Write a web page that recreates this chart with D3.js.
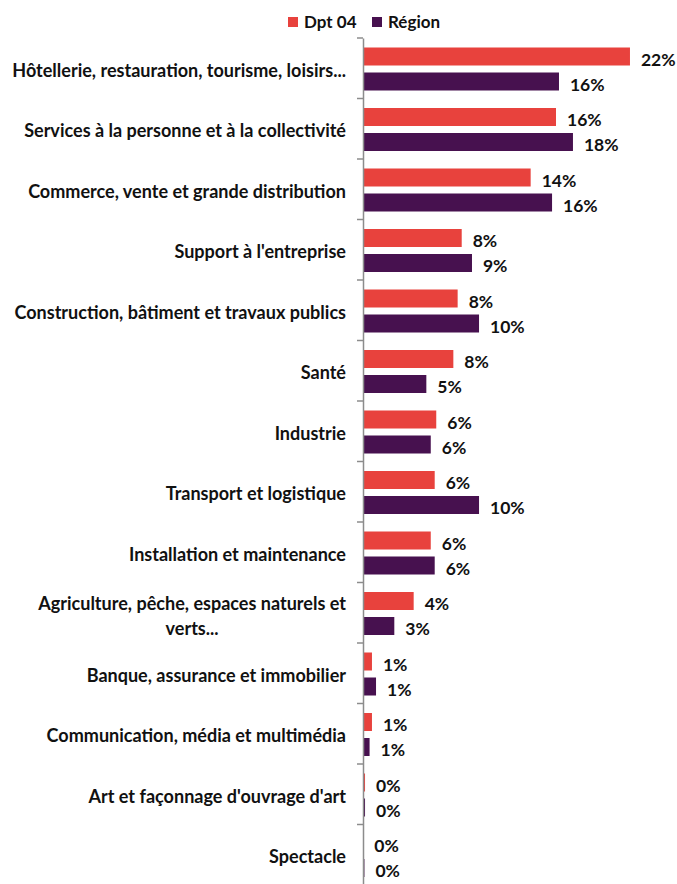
<!DOCTYPE html>
<html><head><meta charset="utf-8">
<script src="https://cdn.jsdelivr.net/npm/d3@7"></script>
<style>
body{margin:0;background:#fff;}
text{font-family:Lato,"Open Sans",sans-serif;font-weight:bold;fill:#111;}
</style></head>
<body>
<svg id="c" width="677" height="884"></svg>
<script>
const categories = [
  ["Hôtellerie, restauration, tourisme, loisirs..."],
  ["Services à la personne et à la collectivité"],
  ["Commerce, vente et grande distribution"],
  ["Support à l'entreprise"],
  ["Construction, bâtiment et travaux publics"],
  ["Santé"],
  ["Industrie"],
  ["Transport et logistique"],
  ["Installation et maintenance"],
  ["Agriculture, pêche, espaces naturels et", "verts..."],
  ["Banque, assurance et immobilier"],
  ["Communication, média et multimédia"],
  ["Art et façonnage d'ouvrage d'art"],
  ["Spectacle"]
];
const seriesNames = ["Dpt 04", "Région"];
const dpt04 = [22.34, 16.15, 14.03, 8.26, 7.92, 7.56, 6.13, 6.0, 5.67, 4.24, 0.75, 0.75, 0.17, 0.03];
const region = [16.40, 17.57, 15.82, 9.12, 9.71, 5.30, 5.67, 9.71, 6.0, 2.62, 1.09, 0.55, 0.17, 0.12];
const colors = ["#E8423D", "#47114F"];

const svg = d3.select("#c");
// fit font size so the longest label matches the reference width
const probe = svg.append("text").style("font-size","16px").text(categories[0][0]);
const pw = probe.node().getComputedTextLength(); probe.remove();
const fs = Math.min(19, 16 * 334 / pw);

const axisX = 363;
const x = d3.scaleLinear().domain([0, 1]).range([axisX, axisX + 1195]);
const keys = categories.map((c,i)=>i);
const y0 = d3.scaleBand().domain(keys).range([38, 885]).padding(0);
const y1 = d3.scaleBand().domain(seriesNames).range([9.5, 52.5]).paddingInner(0.28).paddingOuter(0);
const fmt = d3.format(".0%");

const data = keys.map(i => ({i, vals: [dpt04[i], region[i]]}));

const g = svg.append("g");
const grp = g.selectAll("g.cat").data(data).join("g").attr("class","cat")
  .attr("transform", d => `translate(0,${y0(d.i)})`);

grp.selectAll("rect").data(d => d.vals.map((v,k)=>({v:v/100,k})))
  .join("rect")
  .attr("x", x(0))
  .attr("y", d => y1(seriesNames[d.k]))
  .attr("width", d => x(d.v) - x(0))
  .attr("height", y1.bandwidth())
  .attr("fill", d => colors[d.k]);

grp.selectAll("text.val").data(d => d.vals.map((v,k)=>({v:v/100,k})))
  .join("text").attr("class","val")
  .attr("x", d => x(d.v) + 11)
  .attr("y", d => y1(seriesNames[d.k]) + y1.bandwidth()/2 + 3)
  .attr("dy","0.35em")
  .style("font-size", "17.5px")
  .text(d => fmt(d.v));

// axis
const ax = d3.axisLeft(y0).tickSize(0).tickFormat("");
const axG = svg.append("g").attr("transform", `translate(${axisX},0)`).call(ax);
axG.select(".domain").attr("stroke","#8c8c8c").attr("stroke-width",1.5);
const bounds = d3.range(0, categories.length+1).map(i => 38 + i*y0.bandwidth());
axG.selectAll("line.tk").data(bounds).join("line").attr("class","tk")
  .attr("x1",-6).attr("x2",0).attr("y1",d=>d).attr("y2",d=>d)
  .attr("stroke","#8c8c8c").attr("stroke-width",1.5);

// category labels
const labG = svg.append("g");
data.forEach(d => {
  const lines = categories[d.i];
  const cy = y0(d.i) + y0.bandwidth()/2 + 2;
  const lh = 25;
  const t = labG.append("text").style("font-size",fs+"px");
  if (lines.length === 1) {
    t.attr("x", 346).attr("y", cy).attr("dy","0.35em").attr("text-anchor","end").text(lines[0]);
  } else {
    t.attr("text-anchor","middle");
    const tmp = labG.append("text").style("font-size",fs+"px").text(lines[0]);
    const w = tmp.node().getComputedTextLength(); tmp.remove();
    const cx = 346 - w/2;
    lines.forEach((l,j)=>{
      t.append("tspan").attr("x",cx).attr("y", cy - lh/2 + j*lh + 1).attr("dy","0.35em").text(l);
    });
  }
});

// legend
const leg = svg.append("g");
const legX = [288, 372];
seriesNames.forEach((s,k)=>{
  leg.append("rect").attr("x",legX[k]).attr("y",17).attr("width",10).attr("height",10).attr("fill",colors[k]);
  leg.append("text").attr("x",legX[k]+16).attr("y",22).attr("dy","0.35em").style("font-size","17px").text(s);
});
</script>
</body></html>
